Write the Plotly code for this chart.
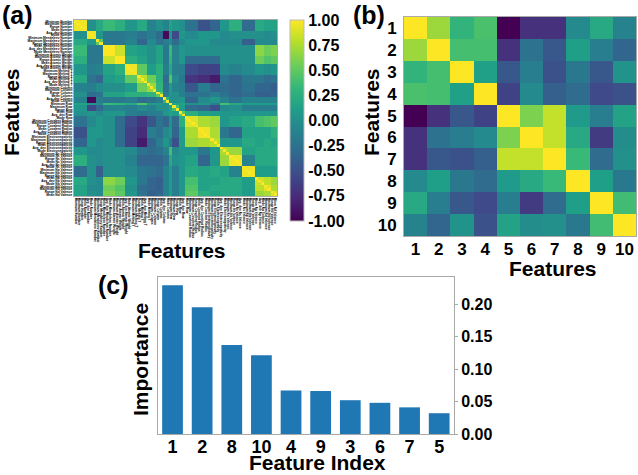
import numpy as np
import plotly.graph_objects as go

W, H = 638, 475

# Panel (a): block estimates
group_sizes = [4, 3, 2, 4, 3, 4, 3, 3, 2, 2, 1, 2, 2, 4, 4, 3, 3, 4, 4, 3, 2, 2]
group_within = [.95, .95, .5, 1, 1, .95, .8, .7, .5, .3, 1, .4, .5, .9, .95, .8, .75, .95, .95, .85, .9, .9]
group_lower = [
    [],
    [.0],
    [.2, .05],
    [.35, -.2, -.2],
    [.25, -.2, -.2, .85],
    [.05, -.15, -.1, .15, .25],
    [.2, -.25, -.35, .1, .15, .5],
    [-.1, -.15, -.05, 0, 0, .1, .55],
    [0, -.3, -.25, .15, .15, .25, .25, .3],
    [-.1, -.95, -.15, -.2, -.2, -.15, -.3, -.25, -.15],
    [.15, .05, -.05, .35, .3, .2, .45, .1, .05, 0],
    [.05, -.55, -.3, -.1, -.1, -.15, -.05, -.1, 0, 0, .15],
    [0, .05, -.05, .05, .05, -.15, -.2, -.15, -.15, .05, .15, .1],
    [-.25, -.05, .05, 0, -.3, -.55, -.7, -.45, -.25, -.35, 0, -.3, .25],
    [-.5, .05, .05, 0, -.3, -.6, -.75, -.15, -.25, -.05, .05, -.35, .1, .75],
    [-.35, .05, -.05, 0, -.3, -.6, -.85, -.35, -.15, .05, -.15, -.5, .1, .7, .75],
    [.05, -.05, -.05, 0, 0, -.05, -.25, -.3, -.25, -.1, .4, -.05, .05, .05, -.2, .05],
    [.25, 0, -.05, 0, 0, -.1, -.35, -.35, -.35, -.25, .2, 0, .05, .15, -.35, .05, .7],
    [-.3, 0, -.4, 0, 0, -.05, -.2, -.25, -.3, -.1, .1, -.15, .05, .2, .15, .2, .15, -.1],
    [.2, 0, -.05, .65, .55, .05, -.2, -.35, -.4, -.1, .1, -.15, .05, .4, .15, .15, .2, .2, .1],
    [.15, -.05, -.05, .55, .45, 0, -.3, -.35, -.4, -.1, .1, -.15, .05, .45, .15, .2, .2, .2, .1, .8],
    [.15, 0, -.05, .6, .5, .05, -.25, -.4, -.35, -.1, .1, -.15, .05, .5, .25, .15, .2, .2, .1, .7, .75],
]
stat_names = ["Minimum", "Maximum", "Range", "Mean", "Avg_dev", "Mode"]
prop_names = ["Number", "Mendeleev Number", "Atomic Weight", "Melting T", "Column", "Row",
              "Covalent Radius", "Electronegativity", "Ns Valence", "Np Valence", "Nd Valence"]
feature_names = [f"{s} {p}" for p in prop_names for s in stat_names][:64]

# Panel (b)
matrix_b = [
    [1, .70, .30, .42, -1, -.72, -.72, -.05, .2, -.1],
    [.70, 1, .40, .40, -.72, -.25, -.45, .12, -.15, -.35],
    [.3, .4, 1, .13, -.45, -.15, -.5, -.2, -.45, .02],
    [.42, .4, .13, 1, -.6, -.05, -.4, -.3, -.55, -.5],
    [-1, -.72, -.45, -.6, 1, .6, .82, .08, -.15, .15],
    [-.72, -.25, -.15, -.05, .6, 1, .82, .2, -.65, -.02],
    [-.72, -.45, -.5, -.4, .82, .82, 1, .35, -.3, 0],
    [-.05, .12, -.2, -.3, .08, .2, .35, 1, .12, -.2],
    [.2, -.15, -.45, -.55, -.15, -.65, -.3, .12, 1, .38],
    [-.1, -.35, .02, -.5, .15, -.02, 0, -.2, .38, 1],
]
labels_b = ["1", "2", "3", "4", "5", "6", "7", "8", "9", "10"]

# Panel (c)
bar_labels = ["1", "2", "8", "10", "4", "9", "3", "6", "7", "5"]
bar_values = [.229, .195, .137, .121, .067, .066, .052, .048, .041, .032]
cbar_ticks = [1, .75, .5, .25, 0, -.25, -.5, -.75, -1]
cbar_text = ["1.00", "0.75", "0.50", "0.25", "0.00", "-0.25", "-0.50", "-0.75", "-1.00"]
c_ticks = [0, .05, .10, .15, .20]

# Assemble panel (a) from its blocks
n_groups = len(group_sizes)
G = np.zeros((n_groups, n_groups))
for i, row in enumerate(group_lower):
    for j, v in enumerate(row):
        G[i, j] = G[j, i] = v
    G[i, i] = group_within[i]
matrix_a = np.repeat(np.repeat(G, group_sizes, axis=0), group_sizes, axis=1)
np.fill_diagonal(matrix_a, 1.0)

BOLD = "Liberation Sans"
def dom_x(a, b): return [a / W, b / W]
def dom_y(top, bot): return [1 - bot / H, 1 - top / H]

fig = go.Figure()
idx = list(range(len(feature_names)))
fig.add_trace(go.Heatmap(
    z=matrix_a.tolist(), x=idx, y=idx, xaxis="x", yaxis="y", colorscale="Viridis", zmin=-1, zmax=1,
    colorbar=dict(x=290 / W, xanchor="left", y=1 - 20 / H, yanchor="top", len=201 / H, lenmode="fraction",
                  thickness=14, thicknessmode="pixels", tickvals=cbar_ticks, ticktext=cbar_text,
                  ticks="", xpad=0, ypad=0, outlinecolor="#bbbbbb", outlinewidth=1,
                  tickfont=dict(family=BOLD, size=16, color="#000000", weight="bold")),
))
fig.add_trace(go.Heatmap(z=matrix_b, x=labels_b, y=labels_b, xaxis="x2", yaxis="y2",
                         colorscale="Viridis", zmin=-1, zmax=1, showscale=False))
fig.add_trace(go.Bar(x=bar_labels, y=bar_values, xaxis="x3", yaxis="y3", width=0.7,
                     marker=dict(color="#1f77b4", line=dict(width=0))))

tiny = dict(family=BOLD, size=3.2, color="#000000", weight="bold")
tick17 = dict(family=BOLD, size=17, color="#000000", weight="bold")
frame = dict(showline=True, mirror=True, linecolor="#aaaaaa", linewidth=1, showgrid=False, zeroline=False)

fig.update_layout(
    width=W, height=H, autosize=False, margin=dict(l=0, r=0, t=0, b=0, autoexpand=False),
    paper_bgcolor="white", plot_bgcolor="white", showlegend=False,
    xaxis=dict(domain=dom_x(74, 277), anchor="y", tickmode="array", tickvals=idx, ticktext=feature_names,
               tickangle=90, tickfont=tiny, ticks="", ticklen=0, range=[-.5, 63.5], **frame),
    yaxis=dict(domain=dom_y(20, 196), anchor="x", tickmode="array", tickvals=idx, ticktext=feature_names,
               tickfont=tiny, ticks="", range=[63.5, -.5], **frame),
    xaxis2=dict(domain=dom_x(404, 636), anchor="y2", type="category", tickfont=tick17, ticks="",
                ticklabelstandoff=-2, **frame),
    yaxis2=dict(domain=dom_y(17, 236), anchor="x2", type="category", tickfont=tick17, ticks="",
                ticklabelstandoff=3, autorange="reversed", **frame),
    xaxis3=dict(domain=dom_x(158, 454), anchor="y3", type="category",
                tickfont=dict(family=BOLD, size=18, color="#000000", weight="bold"), ticks="",
                ticklabelstandoff=-4, range=[-.49, 9.5], **frame),
    yaxis3=dict(domain=dom_y(277, 434), anchor="x3", side="right", tickmode="array", tickvals=c_ticks,
                ticktext=["0.00", "0.05", "0.10", "0.15", "0.20"],
                tickfont=dict(family=BOLD, size=16, color="#000000", weight="bold"),
                ticks="outside", ticklen=3, tickcolor="#aaaaaa", range=[0, .2416], **frame),
)

def note(text, x, y, size, angle=0):
    fig.add_annotation(text=f"<b>{text}</b>", x=x / W, y=1 - y / H, xref="paper", yref="paper",
                       xanchor="center", yanchor="middle", showarrow=False, textangle=angle,
                       font=dict(family=BOLD, size=size, color="#000000"))

note("(a)", 17, 15, 25)
note("(b)", 369, 15, 25)
note("(c)", 114, 285, 25)
note("Features", 11, 112, 21, -90)
note("Features", 182, 251, 21)
note("Features", 371, 112, 21, -90)
note("Features", 553, 268, 21)
note("Feature Index", 317, 462, 21)
note("Importance", 140, 360, 21, -90)

fig.write_html("out.html", config={"displayModeBar": False},
               post_script="document.body.style.margin='0';document.documentElement.style.overflow='hidden';")
